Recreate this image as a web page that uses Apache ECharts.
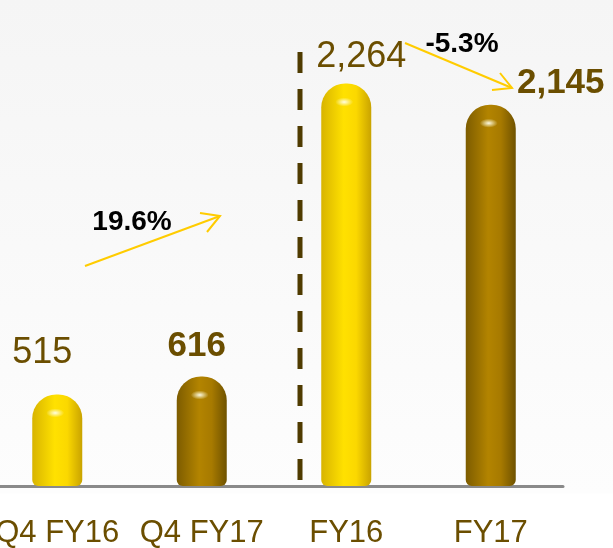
<!DOCTYPE html>
<html>
<head>
<meta charset="utf-8">
<script src="https://cdn.jsdelivr.net/npm/echarts@6/dist/echarts.min.js"></script>
<style>
  html, body { margin: 0; padding: 0; background: #fff; }
  #chart { width: 613px; height: 548px; }
</style>
</head>
<body>
<div id="chart"></div>
<script>
const categories = ["Q4 FY16", "Q4 FY17", "FY16", "FY17"];
const values = [515, 616, 2264, 2145];
const valueLabels = ["515", "616", "2,264", "2,145"];
const growthLabels = ["19.6%", "-5.3%"];

// layout / style lookups (not data)
const labelOffsets = [[-15, -23], [-5, -13], [15, -8], [70, -4]];
const boldLabel = [false, true, false, true];
const TEXT = "#6b4e00";

const yellowFill = new echarts.graphic.LinearGradient(0, 0, 1, 0, [
  { offset: 0, color: "#d8b400" },
  { offset: 0.45, color: "#ffe100" },
  { offset: 0.7, color: "#fbd800" },
  { offset: 1, color: "#c9a300" },
]);
const brownFill = new echarts.graphic.LinearGradient(0, 0, 1, 0, [
  { offset: 0, color: "#7d5c00" },
  { offset: 0.45, color: "#b38400" },
  { offset: 0.7, color: "#a77a00" },
  { offset: 1, color: "#6f5200" },
]);
const fills = [yellowFill, brownFill, yellowFill, brownFill];

const barData = values.map((v, i) => ({
  value: v,
  itemStyle: { color: fills[i] },
  label: {
    formatter: valueLabels[i],
    offset: labelOffsets[i],
    fontWeight: boldLabel[i] ? "bold" : "normal",
    fontSize: boldLabel[i] ? 35 : 36,
  },
}));

const chart = echarts.init(document.getElementById("chart"));

chart.setOption({
  animation: false,
  backgroundColor: new echarts.graphic.LinearGradient(0, 0, 0, 1, [
    { offset: 0, color: "#f5f5f5" },
    { offset: 0.9, color: "#fdfdfd" },
    { offset: 0.901, color: "#ffffff" },
    { offset: 1, color: "#ffffff" },
  ]),
  grid: { left: -15, right: 50, top: 6, bottom: 62, outerBoundsMode: "none" },
  xAxis: {
    type: "category",
    data: categories,
    offset: 8,
    axisLine: { lineStyle: { color: "#8a8a8a", width: 3 } },
    axisTick: { show: false },
    axisLabel: {
      color: TEXT,
      fontSize: 31,
      fontFamily: "Liberation Sans, Arial, sans-serif",
      margin: 24,
      interval: 0,
    },
  },
  yAxis: {
    type: "value",
    min: 0,
    max: 2700,
    show: false,
    splitLine: { show: false },
  },
  series: [
    {
      type: "bar",
      data: barData,
      barWidth: 50,
      itemStyle: { borderRadius: [24, 24, 6, 6] },
      label: {
        show: true,
        position: "top",
        distance: 0,
        color: TEXT,
        fontFamily: "Liberation Sans, Arial, sans-serif",
      },
    },
    {
      type: "pictorialBar",
      data: values,
      symbol: "circle",
      symbolSize: [18, 9],
      symbolPosition: "end",
      symbolOffset: [-2, 14],
      z: 5,
      itemStyle: {
        color: new echarts.graphic.RadialGradient(0.5, 0.5, 0.5, [
          { offset: 0, color: "rgba(255,255,240,0.95)" },
          { offset: 1, color: "rgba(255,255,220,0)" },
        ]),
      },
      silent: true,
    },
  ],
  graphic: [
    {
      type: "line",
      shape: { x1: 300, y1: 52, x2: 300, y2: 486 },
      style: { stroke: "#4f3b00", lineWidth: 5, lineDash: [21, 16] },
    },
    {
      type: "polyline",
      shape: { points: [[85, 266], [220, 216]] },
      style: { stroke: "#ffcc00", lineWidth: 2, fill: null },
    },
    {
      type: "polyline",
      shape: { points: [[200, 213], [220, 216], [207, 232]] },
      style: { stroke: "#ffcc00", lineWidth: 2, fill: null },
    },
    {
      type: "text",
      x: 132, y: 222,
      style: {
        text: growthLabels[0],
        fill: "#000",
        font: "bold 28px Liberation Sans, Arial, sans-serif",
        align: "center",
        verticalAlign: "middle",
      },
    },
    {
      type: "polyline",
      shape: { points: [[405, 43], [512, 88]] },
      style: { stroke: "#ffcc00", lineWidth: 2, fill: null },
    },
    {
      type: "polyline",
      shape: { points: [[500, 73], [512, 88], [492, 90]] },
      style: { stroke: "#ffcc00", lineWidth: 2, fill: null },
    },
    {
      type: "text",
      x: 462, y: 44,
      style: {
        text: growthLabels[1],
        fill: "#000",
        font: "bold 28px Liberation Sans, Arial, sans-serif",
        align: "center",
        verticalAlign: "middle",
      },
    },
  ],
});
</script>
</body>
</html>
